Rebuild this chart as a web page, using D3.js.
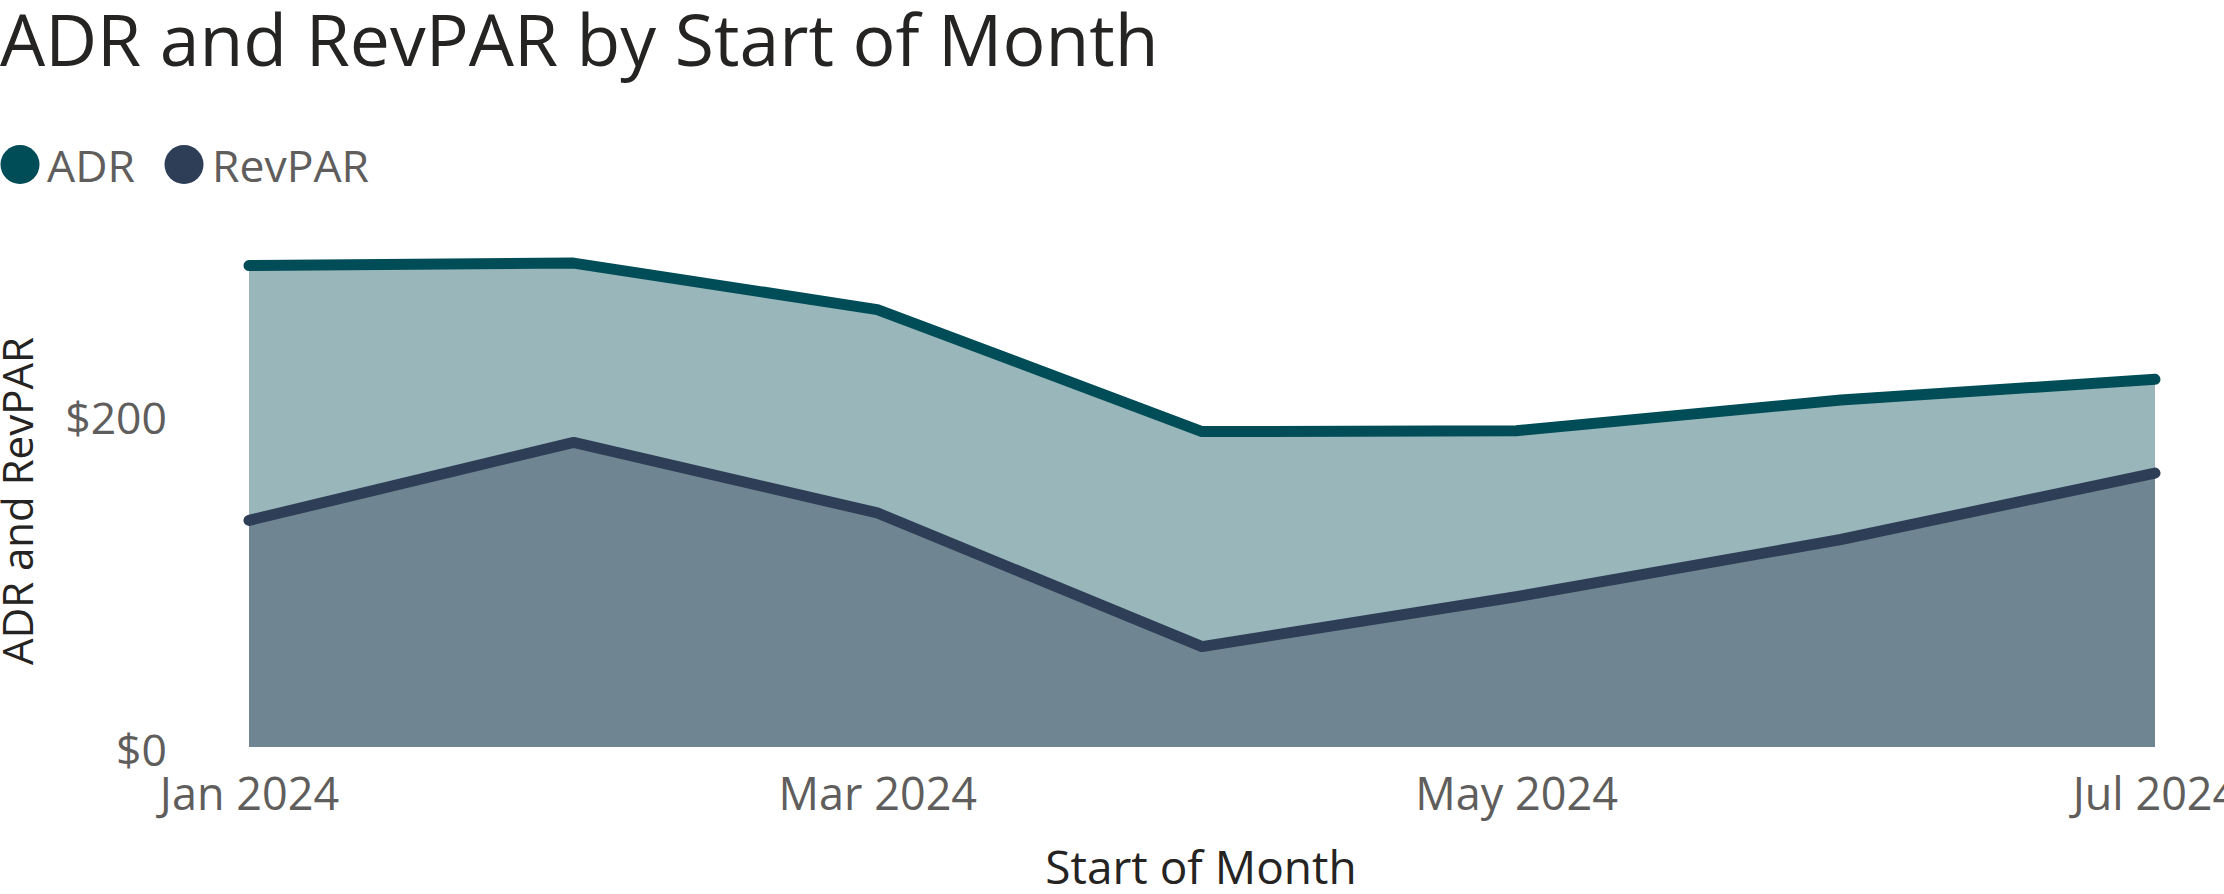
<!DOCTYPE html>
<html>
<head>
<meta charset="utf-8">
<script src="https://cdn.jsdelivr.net/npm/d3@7"></script>
<style>
  html, body { margin: 0; padding: 0; background: #fff; }
  svg { display: block; }
  text { font-family: "Segoe UI", "Open Sans", "Noto Sans", sans-serif; }
</style>
</head>
<body>
<svg id="chart" width="2224" height="894"></svg>
<script>
// ---- data ----
const months = ["2024-01-01", "2024-02-01", "2024-03-01", "2024-04-01", "2024-05-01", "2024-06-01", "2024-07-01"];
const adr = [290, 291.5, 263.5, 190, 190.5, 209, 221.5];
const revpar = [136.5, 183.5, 141, 60.5, 90.5, 125, 165];
const seriesNames = ["ADR", "RevPAR"];
const yTickValues = [0, 200];
const xTickDates = ["2024-01-01", "2024-03-01", "2024-05-01", "2024-07-01"];

// ---- layout ----
const W = 2224, H = 894;
const plot = { left: 249, right: 2155, top: 249, bottom: 747 };
const colors = {
  adrLine: "#004D57", adrFill: "#99B6BA",
  revLine: "#2D3E56", revFill: "#6F8692",
  title: "#252423", label: "#605E5C"
};

const parse = d3.timeParse("%Y-%m-%d");
const dates = months.map(parse);
const rowsA = dates.map((d, i) => ({ date: d, v: adr[i] }));
const rowsR = dates.map((d, i) => ({ date: d, v: revpar[i] }));

const svg = d3.select("#chart");

const x = d3.scaleTime().domain(d3.extent(dates)).range([plot.left, plot.right]);
const y = d3.scaleLinear().domain([0, 300]).range([plot.bottom, plot.top]);

// title
svg.append("text")
  .attr("x", 0).attr("y", 66)
  .attr("font-size", 71.5)
  .attr("fill", colors.title)
  .text("ADR and RevPAR by Start of Month");

// legend
const legend = svg.append("g");
const legendItems = [
  { name: seriesNames[0], color: colors.adrLine, cx: 20, tx: 47 },
  { name: seriesNames[1], color: colors.revLine, cx: 184, tx: 212 }
];
legendItems.forEach(it => {
  legend.append("circle").attr("cx", it.cx).attr("cy", 164.5).attr("r", 19.5).attr("fill", it.color);
  legend.append("text").attr("x", it.tx).attr("y", 182).attr("font-size", 44.5)
    .attr("fill", colors.label).text(it.name);
});

// areas
const area = d3.area().x(d => x(d.date)).y0(y(0)).y1(d => y(d.v));
const line = d3.line().x(d => x(d.date)).y(d => y(d.v));

svg.append("path").datum(rowsA).attr("d", area).attr("fill", colors.adrFill);
svg.append("path").datum(rowsR).attr("d", area).attr("fill", colors.revFill);

svg.append("path").datum(rowsR).attr("d", line)
  .attr("fill", "none").attr("stroke", colors.revLine).attr("stroke-width", 11)
  .attr("stroke-linecap", "round").attr("stroke-linejoin", "round");
svg.append("path").datum(rowsA).attr("d", line)
  .attr("fill", "none").attr("stroke", colors.adrLine).attr("stroke-width", 11)
  .attr("stroke-linecap", "round").attr("stroke-linejoin", "round");

// y axis
const yAxis = d3.axisLeft(y).tickValues(yTickValues).tickSize(0).tickPadding(0)
  .tickFormat(d => "$" + d3.format(",")(d));
const gy = svg.append("g").attr("transform", "translate(167,4)").call(yAxis);
gy.select(".domain").remove();
gy.selectAll("text").attr("font-size", 44.5).attr("fill", colors.label)
  .attr("font-family", '"Segoe UI", "Open Sans", "Noto Sans", sans-serif');

// x axis
const xAxis = d3.axisBottom(x).tickValues(xTickDates.map(parse)).tickSize(0).tickPadding(0)
  .tickFormat(d3.timeFormat("%b %Y"));
const gx = svg.append("g").attr("transform", `translate(0,${plot.bottom + 31})`).call(xAxis);
gx.select(".domain").remove();
gx.selectAll("text").attr("font-size", 45).attr("fill", colors.label)
  .attr("font-family", '"Segoe UI", "Open Sans", "Noto Sans", sans-serif');

// axis titles
svg.append("text")
  .attr("x", 1201).attr("y", 884)
  .attr("text-anchor", "middle")
  .attr("font-size", 46)
  .attr("fill", colors.title)
  .text("Start of Month");

svg.append("text")
  .attr("transform", "translate(33,501) rotate(-90)")
  .attr("text-anchor", "middle")
  .attr("font-size", 42)
  .attr("font-weight", 500)
  .attr("fill", colors.title)
  .text("ADR and RevPAR");
</script>
</body>
</html>
